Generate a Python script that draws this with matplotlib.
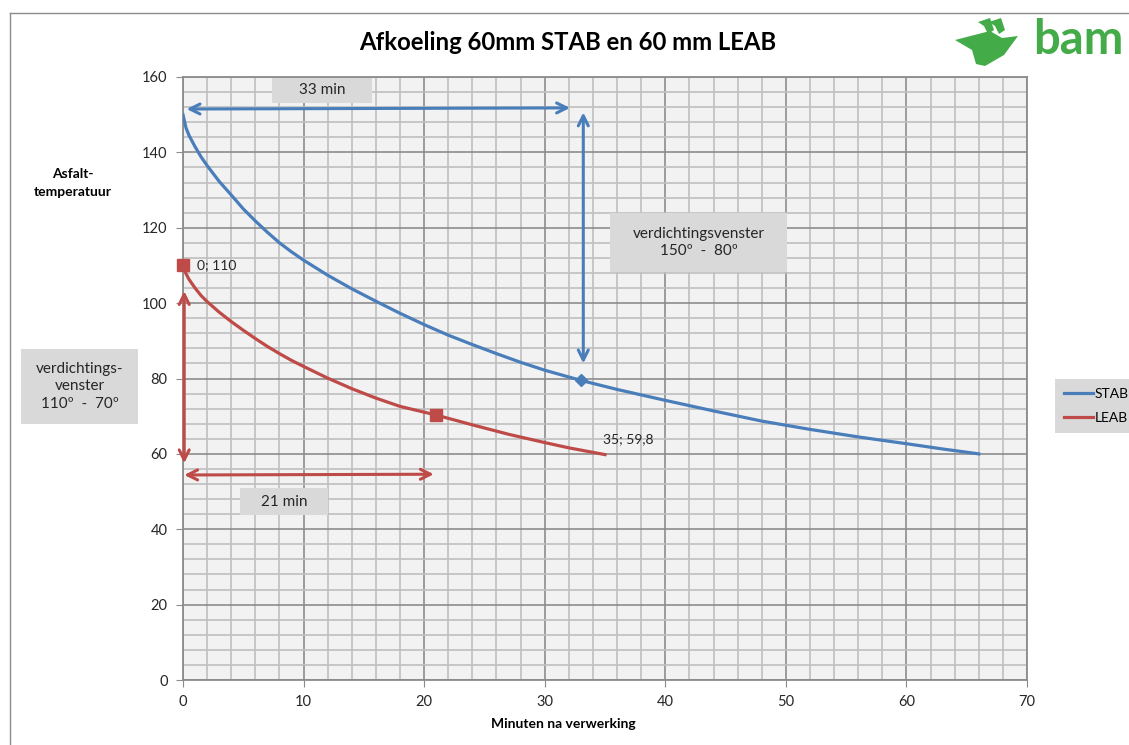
import matplotlib
matplotlib.use("Agg")
import matplotlib.pyplot as plt
from matplotlib.patches import Rectangle, Polygon
from matplotlib.ticker import MultipleLocator

plt.rcParams["font.family"] = ["Lato", "DejaVu Sans"]

# Data
stab_min = [0, 0.25, 0.5, 1, 1.5, 2, 3, 4, 5, 6, 7, 8, 9, 10, 12, 14, 16, 18,
            20, 22, 24, 26, 28, 30, 33, 36, 40, 44, 48, 52, 56, 60, 63, 66]
stab_temp = [150, 146.5, 144.5, 141.5, 138.8, 136.5, 132.3, 128.7, 125, 121.8,
             118.8, 116, 113.6, 111.4, 107.4, 103.8, 100.5, 97.3, 94.3, 91.5,
             89, 86.6, 84.3, 82.2, 79.5, 77.1, 74.2, 71.4, 68.7, 66.5, 64.5,
             62.7, 61.3, 60]
leab_min = [0, 0.25, 0.5, 1, 1.5, 2, 3, 4, 5, 6, 7, 8, 9, 10, 12, 14, 16, 18,
            21, 24, 27, 30, 32, 35]
leab_temp = [110, 107.8, 106.3, 104, 102, 100.4, 97.6, 95.1, 92.8, 90.6, 88.5,
             86.6, 84.8, 83.2, 80.1, 77.3, 74.8, 72.6, 70.3, 67.7, 65.2, 63,
             61.6, 59.8]
stab_marker = (33, 79.5)
leab_markers = [(0, 110), (21, 70.3)]

BLUE = "#4a7ebb"
RED = "#be4b48"
BOX = "#d9d9d9"
W, H = 1129, 745


def fx(x):
    return x / W


def fy(y):
    return 1 - y / H


fig = plt.figure(figsize=(W / 100, H / 100), dpi=100)
ax = fig.add_axes([fx(183), fy(680), (1027 - 183) / W, (680 - 77) / H])
ax.set_facecolor("#f2f2f2")
ax.set_xlim(0, 70)
ax.set_ylim(0, 160)

# grid
ax.xaxis.set_major_locator(MultipleLocator(10))
ax.xaxis.set_minor_locator(MultipleLocator(2))
ax.yaxis.set_major_locator(MultipleLocator(20))
ax.yaxis.set_minor_locator(MultipleLocator(4))
ax.grid(which="minor", color="#bfbfbf", lw=1.2)
ax.grid(which="major", color="#8c8c8c", lw=1.2)
ax.set_axisbelow(True)
for s in ax.spines.values():
    s.set_color("#8c8c8c")
    s.set_linewidth(1.3)
ax.tick_params(which="major", direction="out", length=5, color="#8c8c8c",
               labelsize=10.5, labelcolor="#262626", pad=6)
ax.tick_params(which="minor", length=0)

# series
ax.plot(stab_min, stab_temp, color=BLUE, lw=2.3, label="STAB", zorder=4,
        solid_joinstyle="round")
ax.plot(leab_min, leab_temp, color=RED, lw=2.3, label="LEAB", zorder=4,
        solid_joinstyle="round")
ax.plot(*stab_marker, marker="D", ms=6, color=BLUE, zorder=5)
for m in leab_markers:
    ax.plot(*m, marker="s", ms=8, color=RED, zorder=5, clip_on=False)

# data labels
ax.annotate("0; 110", leab_markers[0], xytext=(10, 0), textcoords="offset points",
            va="center", fontsize=10, color="#262626")
ax.annotate("35; 59,8", (leab_min[-1], leab_temp[-1]), xytext=(-1.5, 11),
            textcoords="offset points", va="center", fontsize=10, color="#262626")

# arrows
arr = dict(arrowstyle="<->", lw=2.2, shrinkA=0, shrinkB=0, mutation_scale=18)
ax.annotate("", xy=(0.3, 151.5), xytext=(32.1, 151.8),
            arrowprops=dict(arr, color=BLUE))
ax.annotate("", xy=(33.2, 150.6), xytext=(33.2, 84),
            arrowprops=dict(arr, color=BLUE))
ax.annotate("", xy=(0.1, 103.2), xytext=(0.1, 57.5),
            arrowprops=dict(arr, color=RED), annotation_clip=False)
ax.annotate("", xy=(0.1, 54.4), xytext=(20.8, 54.6),
            arrowprops=dict(arr, color=RED), annotation_clip=False)


# grey text boxes (figure pixel positions)
def box(x0, y0, x1, y1, txt, size=11):
    fig.patches.append(Rectangle((fx(x0), fy(y1)), (x1 - x0) / W, (y1 - y0) / H,
                                 transform=fig.transFigure, facecolor=BOX,
                                 edgecolor="none", zorder=6))
    fig.text(fx((x0 + x1) / 2), fy((y0 + y1) / 2), txt, ha="center", va="center",
             fontsize=size, color="#262626", linespacing=1.35, zorder=7)


box(272, 78, 372, 103, "33 min")
box(610, 213, 787, 272, "verdichtingsvenster\n150º  -  80º")
box(240, 488, 328, 515, "21 min")
box(21, 349, 138, 424, "verdichtings-\nvenster\n110º  -  70º")

# titles
fig.text(fx(568), fy(43), "Afkoeling 60mm STAB en 60 mm LEAB", ha="center",
         va="center", fontsize=17.2, fontweight="bold", color="#000000")
fig.text(fx(73), fy(183), "Asfalt-\ntemperatuur", ha="center", va="center",
         fontsize=10, fontweight="bold", linespacing=1.6)
fig.text(fx(563), fy(724), "Minuten na verwerking", ha="center", va="center",
         fontsize=10, fontweight="bold")

# legend
leg = ax.legend(loc="center left", bbox_to_anchor=(fx(1057), fy(406)),
                bbox_transform=fig.transFigure, fontsize=10, frameon=True,
                fancybox=False, facecolor=BOX, edgecolor="none", framealpha=1,
                handlelength=2.1, handletextpad=0.1, borderpad=0.5,
                labelspacing=0.9, borderaxespad=0)
leg.get_frame().set_boxstyle("square", pad=0.15)

# chart border (left and top edges visible)
fig.add_artist(plt.Line2D([fx(10), fx(10)], [fy(13), 0], transform=fig.transFigure,
                          color="#8c8c8c", lw=1))
fig.add_artist(plt.Line2D([fx(10), 1], [fy(13), fy(13)], transform=fig.transFigure,
                          color="#8c8c8c", lw=1))

# logo
GREEN = "#43ac48"
logo = [(955, 40), (990, 31), (1002, 38), (1018, 36), (1004, 55), (985, 66),
        (976, 64), (972, 50)]
fig.patches.append(Polygon([(fx(x), fy(y)) for x, y in logo], closed=True,
                           transform=fig.transFigure, facecolor=GREEN, edgecolor="none"))
for dx in (0, 11):
    chev = [(978 + dx, 22), (990 + dx, 18), (994 + dx, 30), (988 + dx, 34), (984 + dx, 26)]
    fig.patches.append(Polygon([(fx(x), fy(y)) for x, y in chev], closed=True,
                               transform=fig.transFigure, facecolor=GREEN,
                               edgecolor="none"))
fig.text(fx(1078), fy(40), "bam", ha="center", va="center", fontsize=34,
         fontweight="bold", color=GREEN)

fig.savefig("out.png", dpi=100)
